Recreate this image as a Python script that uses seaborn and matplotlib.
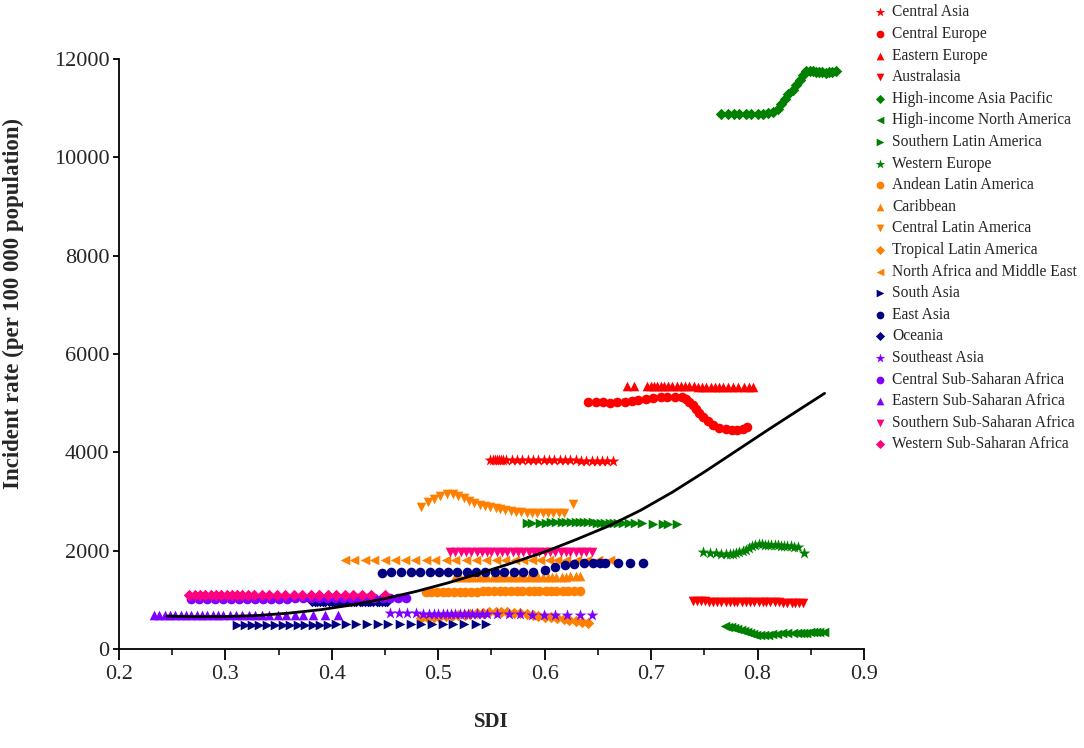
import matplotlib
matplotlib.use('Agg')
import matplotlib.pyplot as plt
import seaborn as sns
from matplotlib.ticker import MultipleLocator

# SDI (x) and incident rate (y) per region
central_asia_sdi = [0.549,0.551,0.553,0.555,0.557,0.559,0.561,0.564,0.569,0.574,0.579,0.584,0.589,0.594,0.599,0.604,0.609,0.614,0.619,0.624,0.629,0.634,0.639,0.644,0.649,0.654,0.659,0.664]
central_asia_rate = [3850,3848,3846,3845,3844,3843,3842,3842,3841,3840,3840,3839,3839,3838,3838,3837,3837,3836,3836,3835,3835,3834,3834,3833,3833,3832,3832,3831]

central_europe_sdi = [0.641,0.648,0.655,0.661,0.668,0.675,0.682,0.688,0.695,0.702,0.709,0.715,0.722,0.729,0.733,0.736,0.739,0.742,0.745,0.749,0.753,0.758,0.764,0.770,0.776,0.781,0.786,0.790]
central_europe_rate = [5030,5025,5015,5010,5015,5025,5040,5060,5080,5100,5120,5130,5130,5120,5090,5030,4960,4880,4800,4720,4640,4560,4500,4470,4455,4455,4470,4510]

eastern_europe_sdi = [0.677,0.684,0.696,0.700,0.703,0.706,0.709,0.712,0.716,0.720,0.724,0.728,0.732,0.736,0.740,0.744,0.748,0.752,0.756,0.760,0.764,0.768,0.772,0.777,0.782,0.787,0.792,0.796]
eastern_europe_rate = [5350,5350,5345,5345,5348,5350,5350,5348,5345,5345,5342,5342,5340,5340,5340,5338,5338,5336,5336,5335,5335,5335,5334,5334,5333,5333,5332,5332]

australasia_sdi = [0.739,0.743,0.747,0.751,0.754,0.758,0.762,0.766,0.770,0.774,0.778,0.781,0.785,0.789,0.793,0.797,0.801,0.805,0.808,0.812,0.816,0.820,0.824,0.828,0.832,0.835,0.839,0.843]
australasia_rate = [970,969,967,966,965,963,962,961,960,959,957,956,955,954,953,952,951,950,949,948,947,946,945,944,943,942,941,940]

hi_asia_pacific_sdi = [0.766,0.772,0.778,0.783,0.789,0.794,0.800,0.805,0.810,0.815,0.819,0.822,0.826,0.829,0.833,0.836,0.840,0.843,0.846,0.849,0.852,0.855,0.858,0.861,0.864,0.867,0.870,0.874]
hi_asia_pacific_rate = [10890,10890,10885,10885,10880,10880,10885,10885,10895,10930,10990,11080,11180,11280,11380,11480,11580,11680,11750,11760,11750,11740,11735,11730,11725,11730,11740,11760]

hi_north_america_sdi = [0.769,0.772,0.775,0.778,0.781,0.784,0.787,0.790,0.793,0.796,0.799,0.802,0.806,0.810,0.814,0.818,0.823,0.828,0.833,0.837,0.840,0.843,0.846,0.849,0.852,0.855,0.858,0.862]
hi_north_america_rate = [470,455,440,425,410,390,370,345,320,300,285,280,285,290,300,310,315,320,320,325,325,330,330,335,335,338,340,342]

southern_latam_sdi = [0.583,0.588,0.596,0.601,0.606,0.611,0.616,0.620,0.625,0.629,0.633,0.637,0.641,0.645,0.649,0.653,0.657,0.661,0.665,0.669,0.674,0.679,0.685,0.691,0.702,0.711,0.716,0.724]
southern_latam_rate = [2560,2562,2566,2570,2574,2577,2579,2580,2581,2580,2579,2577,2575,2573,2571,2569,2567,2565,2563,2561,2559,2557,2555,2553,2550,2548,2546,2545]

western_europe_sdi = [0.749,0.755,0.761,0.766,0.770,0.774,0.777,0.780,0.783,0.786,0.789,0.792,0.795,0.798,0.801,0.804,0.807,0.810,0.813,0.816,0.819,0.822,0.825,0.828,0.831,0.834,0.838,0.844]
western_europe_rate = [1970,1960,1950,1940,1935,1932,1940,1955,1975,1995,2020,2050,2090,2120,2130,2130,2125,2120,2115,2110,2105,2100,2095,2090,2085,2080,2070,1960]

andean_sdi = [0.488,0.493,0.499,0.504,0.509,0.515,0.520,0.525,0.531,0.536,0.542,0.547,0.552,0.558,0.563,0.568,0.574,0.579,0.585,0.590,0.595,0.601,0.606,0.611,0.617,0.622,0.628,0.633]
andean_rate = [1165,1165,1166,1166,1167,1167,1168,1168,1169,1169,1170,1170,1171,1171,1172,1172,1173,1173,1174,1174,1175,1175,1176,1176,1177,1177,1178,1178]

caribbean_sdi = [0.516,0.520,0.525,0.529,0.533,0.538,0.542,0.546,0.551,0.555,0.559,0.564,0.568,0.572,0.577,0.581,0.585,0.590,0.594,0.598,0.603,0.607,0.611,0.616,0.620,0.624,0.629,0.633]
caribbean_rate = [1465,1465,1466,1466,1467,1467,1468,1468,1469,1469,1470,1470,1470,1471,1471,1471,1472,1472,1472,1473,1473,1473,1474,1474,1474,1475,1475,1475]

central_latam_sdi = [0.484,0.490,0.496,0.502,0.508,0.514,0.519,0.524,0.529,0.534,0.539,0.544,0.549,0.554,0.558,0.563,0.568,0.573,0.578,0.583,0.588,0.593,0.598,0.603,0.608,0.613,0.618,0.627]
central_latam_rate = [2880,2990,3060,3120,3150,3150,3120,3070,3020,2970,2930,2900,2880,2860,2840,2820,2800,2790,2780,2775,2770,2765,2765,2765,2770,2770,2775,2940]

tropical_latam_sdi = [0.484,0.490,0.496,0.501,0.507,0.513,0.519,0.525,0.530,0.536,0.542,0.548,0.554,0.559,0.565,0.571,0.577,0.583,0.589,0.594,0.600,0.606,0.612,0.618,0.623,0.629,0.635,0.641]
tropical_latam_rate = [630,640,650,660,670,680,690,700,712,722,732,742,748,750,748,740,728,712,695,678,660,642,625,608,590,572,552,530]

name_sdi = [0.412,0.421,0.431,0.440,0.450,0.459,0.469,0.478,0.488,0.497,0.507,0.516,0.526,0.535,0.545,0.554,0.563,0.572,0.580,0.588,0.596,0.604,0.612,0.620,0.630,0.640,0.650,0.661]
name_rate = [1800,1802,1804,1805,1806,1807,1808,1809,1810,1810,1811,1811,1812,1812,1813,1813,1814,1814,1815,1815,1816,1816,1817,1817,1818,1818,1819,1820]

south_asia_sdi = [0.311,0.318,0.325,0.332,0.339,0.347,0.354,0.361,0.368,0.375,0.382,0.389,0.396,0.404,0.413,0.423,0.433,0.443,0.453,0.464,0.474,0.484,0.494,0.504,0.514,0.524,0.535,0.545]
south_asia_rate = [485,486,487,488,489,490,491,492,493,494,495,496,497,498,499,500,502,504,506,508,510,511,513,514,515,516,517,518]

east_asia_sdi = [0.447,0.456,0.465,0.474,0.483,0.492,0.501,0.509,0.518,0.527,0.535,0.544,0.553,0.562,0.571,0.580,0.589,0.600,0.610,0.619,0.628,0.637,0.645,0.652,0.657,0.669,0.680,0.692]
east_asia_rate = [1555,1556,1557,1557,1558,1558,1559,1559,1560,1560,1561,1561,1562,1562,1563,1565,1575,1610,1660,1700,1730,1742,1745,1747,1748,1750,1752,1755]

oceania_sdi = [0.381,0.384,0.386,0.389,0.392,0.394,0.397,0.400,0.402,0.405,0.407,0.410,0.413,0.415,0.418,0.421,0.423,0.426,0.428,0.431,0.434,0.436,0.439,0.442,0.444,0.447,0.450,0.452]
oceania_rate = [985,984,984,983,983,982,982,981,981,980,980,979,979,978,978,977,977,976,976,975,975,974,974,973,973,972,972,971]

southeast_asia_sdi = [0.455,0.463,0.471,0.479,0.486,0.491,0.496,0.500,0.504,0.508,0.512,0.516,0.520,0.524,0.528,0.532,0.536,0.541,0.546,0.555,0.566,0.577,0.588,0.599,0.610,0.621,0.633,0.644]
southeast_asia_rate = [725,724,723,722,721,720,719,718,717,716,715,714,713,712,711,710,709,708,707,706,704,702,700,698,696,694,692,690]

central_ssa_sdi = [0.268,0.275,0.283,0.290,0.298,0.305,0.313,0.320,0.328,0.335,0.343,0.350,0.358,0.365,0.373,0.380,0.388,0.395,0.403,0.410,0.418,0.425,0.433,0.440,0.448,0.455,0.462,0.470]
central_ssa_rate = [1020,1021,1021,1022,1022,1023,1023,1024,1024,1025,1025,1026,1026,1027,1027,1028,1028,1029,1029,1030,1030,1031,1031,1032,1032,1033,1033,1034]

eastern_ssa_sdi = [0.233,0.238,0.243,0.248,0.253,0.258,0.263,0.268,0.273,0.278,0.283,0.288,0.293,0.298,0.304,0.310,0.316,0.322,0.328,0.334,0.341,0.349,0.357,0.365,0.373,0.382,0.394,0.406]
eastern_ssa_rate = [690,690,689,689,688,688,688,687,687,687,686,686,686,686,686,687,687,687,688,688,689,689,690,690,691,691,692,692]

southern_ssa_sdi = [0.511,0.516,0.521,0.526,0.531,0.536,0.541,0.546,0.550,0.555,0.560,0.565,0.570,0.575,0.580,0.585,0.590,0.595,0.600,0.605,0.610,0.615,0.620,0.624,0.629,0.634,0.639,0.644]
southern_ssa_rate = [1965,1965,1966,1966,1966,1967,1967,1967,1968,1968,1968,1969,1969,1969,1970,1970,1970,1970,1971,1971,1971,1971,1972,1972,1972,1972,1973,1973]

western_ssa_sdi = [0.266,0.271,0.276,0.281,0.286,0.291,0.296,0.301,0.306,0.311,0.316,0.321,0.327,0.334,0.341,0.348,0.356,0.364,0.372,0.380,0.388,0.396,0.404,0.412,0.420,0.428,0.437,0.450]
western_ssa_rate = [1090,1090,1091,1091,1092,1092,1093,1093,1094,1094,1095,1095,1096,1096,1097,1097,1098,1098,1099,1099,1100,1100,1101,1101,1102,1102,1103,1103]

# black trend curve
trend_sdi = [0.245,0.27,0.30,0.33,0.36,0.39,0.42,0.45,0.48,0.51,0.54,0.57,0.60,0.63,0.66,0.69,0.72,0.75,0.78,0.81,0.84,0.863]
trend_rate = [668,658,660,680,730,800,900,1025,1175,1350,1545,1755,1975,2230,2500,2820,3190,3600,4030,4460,4880,5200]

regions = [
    ('Central Asia', central_asia_sdi, central_asia_rate, '#FF0000', '*'),
    ('Central Europe', central_europe_sdi, central_europe_rate, '#FF0000', 'o'),
    ('Eastern Europe', eastern_europe_sdi, eastern_europe_rate, '#FF0000', '^'),
    ('Australasia', australasia_sdi, australasia_rate, '#FF0000', 'v'),
    ('High-income Asia Pacific', hi_asia_pacific_sdi, hi_asia_pacific_rate, '#008000', 'D'),
    ('High-income North America', hi_north_america_sdi, hi_north_america_rate, '#008000', '<'),
    ('Southern Latin America', southern_latam_sdi, southern_latam_rate, '#008000', '>'),
    ('Western Europe', western_europe_sdi, western_europe_rate, '#008000', '*'),
    ('Andean Latin America', andean_sdi, andean_rate, '#FF8000', 'o'),
    ('Caribbean', caribbean_sdi, caribbean_rate, '#FF8000', '^'),
    ('Central Latin America', central_latam_sdi, central_latam_rate, '#FF8000', 'v'),
    ('Tropical Latin America', tropical_latam_sdi, tropical_latam_rate, '#FF8000', 'D'),
    ('North Africa and Middle East', name_sdi, name_rate, '#FF8000', '<'),
    ('South Asia', south_asia_sdi, south_asia_rate, '#000080', '>'),
    ('East Asia', east_asia_sdi, east_asia_rate, '#000080', 'o'),
    ('Oceania', oceania_sdi, oceania_rate, '#000080', 'D'),
    ('Southeast Asia', southeast_asia_sdi, southeast_asia_rate, '#8000FF', '*'),
    ('Central Sub-Saharan Africa', central_ssa_sdi, central_ssa_rate, '#8000FF', 'o'),
    ('Eastern Sub-Saharan Africa', eastern_ssa_sdi, eastern_ssa_rate, '#8000FF', '^'),
    ('Southern Sub-Saharan Africa', southern_ssa_sdi, southern_ssa_rate, '#FF0080', 'v'),
    ('Western Sub-Saharan Africa', western_ssa_sdi, western_ssa_rate, '#FF0080', 'D'),
]
marker_size = {'*': 80, 'o': 48, '^': 48, 'v': 48, '<': 48, '>': 48, 'D': 34}

sns.set_style('ticks')
plt.rcParams['font.family'] = ['Liberation Serif', 'DejaVu Serif']

fig = plt.figure(figsize=(10.84, 7.48), dpi=100)
ax = fig.add_axes([0.1098, 0.1324, 0.6872, 0.7886])

for name, xs, ys, color, mk in regions:
    sns.scatterplot(x=xs, y=ys, marker=mk, color=color, s=marker_size[mk],
                    linewidth=0, label=name, ax=ax, zorder=3)

sns.lineplot(x=trend_sdi, y=trend_rate, color='black', linewidth=2, sort=False,
             ax=ax, zorder=4)

ax.set_xlim(0.2, 0.9)
ax.set_ylim(0, 12000)
ax.xaxis.set_major_locator(MultipleLocator(0.1))
ax.xaxis.set_minor_locator(MultipleLocator(0.05))
ax.yaxis.set_major_locator(MultipleLocator(2000))
ax.set_xticklabels([f'{v:.1f}' for v in ax.get_xticks()])
ax.tick_params(axis='x', which='major', labelsize=16, length=8, width=1.3,
               direction='out', color='black')
ax.tick_params(axis='x', which='minor', length=4, width=1.3, direction='out')
ax.tick_params(axis='y', which='major', labelsize=16, length=4, width=1.3,
               pad=3, direction='out', color='black')
for side in ['top', 'right']:
    ax.spines[side].set_visible(False)
for side in ['left', 'bottom']:
    ax.spines[side].set_linewidth(1.3)
    ax.spines[side].set_color('black')

ax.set_xlabel('SDI', fontsize=15, fontweight='bold', labelpad=20)
ax.set_ylabel('Incident rate (per 100 000 population)', fontsize=16.5, fontweight='bold')
ax.yaxis.set_label_coords(-0.128, 0.585)

handles, labels = ax.get_legend_handles_labels()
names = [r[0] for r in regions]
keep = [(h, l) for h, l in zip(handles, labels) if l in names]
ax.legend([h for h, l in keep], [l for h, l in keep], loc='upper left',
          bbox_to_anchor=(0.805, 0.994), bbox_transform=fig.transFigure,
          frameon=False, fontsize=11.2, labelspacing=0.36, handlelength=0.9,
          handletextpad=0.35, borderaxespad=0, borderpad=0, markerscale=0.8)

fig.savefig('out.png', dpi=100)
